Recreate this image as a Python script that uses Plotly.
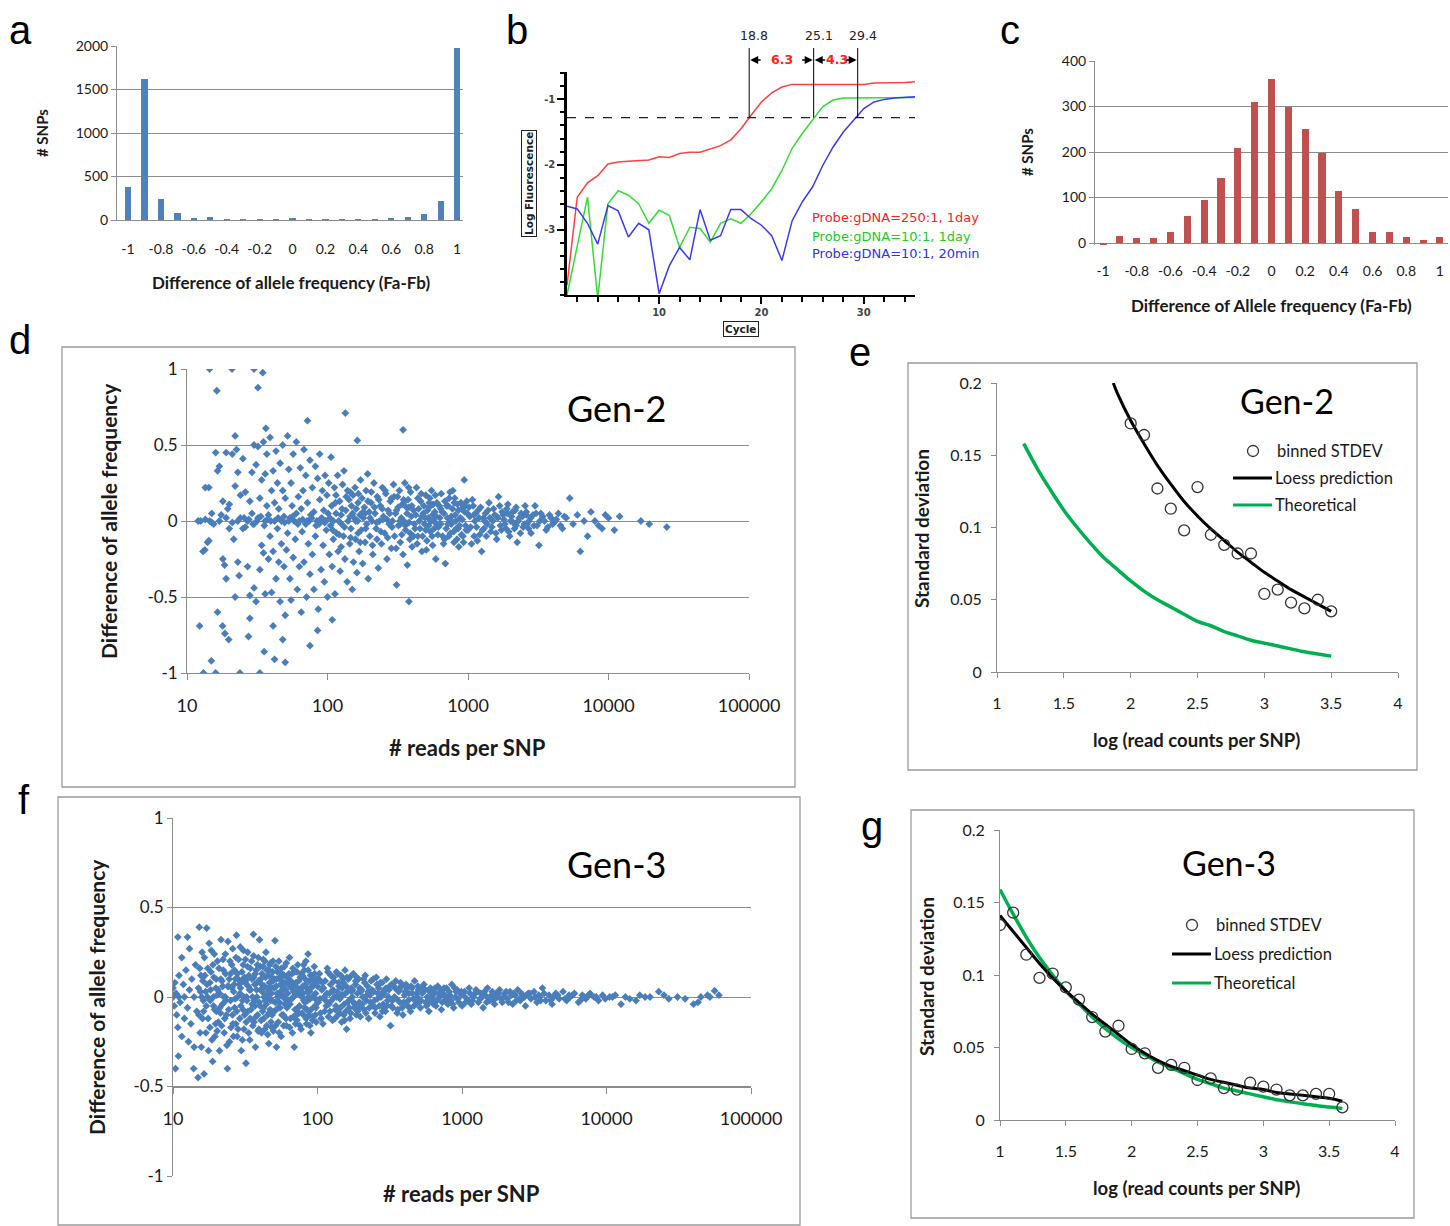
import plotly.graph_objects as go

W, H = 1450, 1226
def fx(p): return p / W
def fy(p): return 1 - p / H

# ---------------- DATA ----------------
# panel a
a_bins = [-1.0, -0.9, -0.8, -0.7, -0.6, -0.5, -0.4, -0.3, -0.2, -0.1, 0.0,
          0.1, 0.2, 0.3, 0.4, 0.5, 0.6, 0.7, 0.8, 0.9, 1.0]
a_counts = [375, 1620, 238, 77, 19, 34, 11, 11, 8, 11, 19, 11, 11, 11, 8, 11, 19, 34, 65, 222, 1973]
hist_ticks = [-1, -0.8, -0.6, -0.4, -0.2, 0, 0.2, 0.4, 0.6, 0.8, 1]
hist_ticktext = ['-1', '-0.8', '-0.6', '-0.4', '-0.2', '0', '0.2', '0.4', '0.6', '0.8', '1']

# panel b
b_cycles = [1, 2, 3, 4, 5, 6, 7, 8, 9, 10, 11, 12, 13, 14, 15, 16, 17, 18, 19, 20,
            21, 22, 23, 24, 25, 26, 27, 28, 29, 30, 31, 32, 33, 34, 35]
b_red = [-3.85, -2.5, -2.28, -2.17, -1.99, -1.96, -1.95, -1.94, -1.93, -1.88, -1.89, -1.83,
         -1.81, -1.81, -1.76, -1.71, -1.62, -1.45, -1.24, -1.04, -0.9, -0.81, -0.77, -0.77,
         -0.77, -0.77, -0.77, -0.77, -0.77, -0.77, -0.75, -0.75, -0.74, -0.74, -0.73]
b_green = [-4.0, -3.25, -2.5, -4.05, -2.6, -2.4, -2.47, -2.6, -2.9, -2.7, -2.78, -3.27,
           -2.96, -2.98, -3.19, -2.9, -2.83, -2.9, -2.75, -2.57, -2.37, -2.09, -1.75, -1.52,
           -1.32, -1.11, -1.01, -0.98, -0.98, -0.98, -0.98, -0.98, -0.98, -0.97, -0.97]
b_blue = [-2.64, -2.68, -2.9, -3.22, -2.63, -2.71, -3.11, -2.9, -3.0, -3.98, -3.55, -3.27,
          -3.46, -2.69, -3.16, -3.09, -2.69, -2.69, -2.83, -2.93, -3.09, -3.47, -2.86, -2.57,
          -2.34, -2.01, -1.73, -1.5, -1.32, -1.14, -1.04, -1.0, -0.98, -0.97, -0.96]
b_names = ['Probe:gDNA=250:1, 1day', 'Probe:gDNA=10:1, 1day', 'Probe:gDNA=10:1, 20min']
b_threshold = -1.28
b_ct = [18.8, 25.1, 29.4]

# panel c
c_bins = [-1.0, -0.9, -0.8, -0.7, -0.6, -0.5, -0.4, -0.3, -0.2, -0.1, 0.0,
          0.1, 0.2, 0.3, 0.4, 0.5, 0.6, 0.7, 0.8, 0.9, 1.0]
c_counts = [-4, 15, 10, 12, 25, 59, 95, 142, 209, 311, 360, 300, 251, 197, 114, 75, 25, 25, 13, 7, 13]

# panel d (Gen-2) : (# reads, difference)
d_points = [
    (14.5, 1), (20.9, 1), (30, 1), (34.6, 0.976), (16.3, 0.857), (32, 0.877),
    (13.1, -1), (16, -1), (23.8, -1), (33, -1), (14.9, -0.92), (35.4, -0.86), (42, -0.91), (50, -0.93),
    (12.3, -0.69), (16.5, -0.6), (17.9, -0.69), (18.6, -0.74), (19.8, -0.78), (27.4, -0.76), (28, -0.64),
    (41, -0.69), (48, -0.78), (75, -0.82), (85, -0.72), (108, -0.65), (380, -0.53), (345, 0.6), (134, 0.71),
    (72, 0.66), (163, 0.53), (36.4, 0.61), (22, 0.56), (14.3, 0.22), (13.4, -0.19), (14.3, -0.13),
    (12.5, 0), (13, -0.2), (13.5, 0.22), (14, -0.14), (14.5, 0), (15, 0.05), (15.5, -0.02), (16, 0.45),
    (16.5, 0.33), (17, 0.36), (17.5, 0.04), (18, -0.25), (18, 0.13), (18.5, -0.29), (19, 0.45), (19, -0.38),
    (19.5, 0.08), (20, -0.05), (20, 0.11),
    (21, 0.44), (21.5, -0.12), (22, 0.23), (22, -0.5), (22.5, 0.47), (23, -0.27), (23, 0.32), (23.5, -0.36),
    (24, 0.17), (24, 0.02), (25, -0.05), (25, 0.41), (26, -0.04), (26, 0.19), (27, 0.0), (27, -0.3),
    (28, 0.13), (28, -0.49), (29, 0.32), (29, 0.05), (30, -0.02), (30, 0.5), (30, -0.44),
    (31, 0.37), (31, -0.53), (32, 0.02), (32, 0.49), (33, -0.32), (33, 0.15), (34, -0.16), (34, 0.27),
    (35, 0.52), (35, -0.21), (36, 0.0), (36, 0.31), (36, -0.48), (37, 0.44), (37, 0.1), (38, -0.25),
    (38, 0.04), (39, 0.55), (39, -0.1), (40, -0.47), (40, 0.2), (41, 0.33), (41, -0.2), (42, 0.0),
    (42, 0.12), (43, -0.38), (43, 0.46), (44, 0.25), (44, -0.05), (45, -0.27), (45, 0.08), (46, 0.38),
    (46, -0.53), (47, 0.0), (47, -0.15), (48, 0.5), (48, 0.2), (49, -0.3), (49, 0.03), (50, -0.62), (50, 0.15),
    (51, -0.19), (52, 0.56), (52, -0.08), (53, 0.34), (54, -0.38), (54, 0.02), (55, 0.25), (55, -0.52),
    (56, 0.1), (57, -0.24), (57, 0.44), (58, 0.0), (59, -0.12), (60, 0.05), (60, 0.52), (61, -0.45),
    (62, 0.16), (63, -0.3), (63, 0.0), (64, 0.35), (65, -0.6), (65, 0.08), (66, -0.07), (67, 0.2),
    (68, -0.27), (68, 0.47), (70, -0.02), (70, 0.3), (71, -0.5), (72, 0.12), (73, -0.15), (74, 0.0),
    (75, 0.4), (75, -0.35), (76, 0.04), (78, -0.22), (78, 0.22), (80, 0.06), (80, -0.45), (82, 0.36),
    (82, -0.1), (84, 0.0), (85, 0.28), (86, -0.58), (87, -0.02), (88, 0.44), (88, 0.14), (90, -0.32),
    (91, 0.02), (92, 0.2), (93, -0.16), (94, 0.07), (95, -0.4), (96, 0.3), (97, 0.0), (98, -0.06), (99, 0.17),
    (100, -0.5), (102, 0.25), (103, -0.22), (104, 0.02), (105, -0.03), (106, 0.42), (107, 0.1), (108, -0.3),
    (110, 0.0), (110, -0.12), (112, 0.22), (113, -0.48), (115, 0.05), (116, -0.08), (118, 0.3), (119, -0.2),
    (120, 0.0), (122, 0.13), (123, -0.33), (125, 0.04), (126, -0.02), (128, 0.24), (130, -0.1), (131, 0.33),
    (133, -0.25), (135, 0.07), (136, 0.16), (138, -0.4), (140, 0.0), (142, 0.14), (144, -0.15), (145, 0.19),
    (147, -0.05), (148, 0.1), (150, -0.45), (152, 0.17), (153, -0.27), (155, 0.02), (157, 0.22), (158, -0.12),
    (160, 0.08), (162, -0.34), (164, 0.0), (165, 0.12), (168, -0.2), (170, 0.04), (172, 0.27), (174, -0.06),
    (176, 0.15), (178, -0.28), (180, 0.02), (183, 0.09), (185, -0.14), (188, 0.2), (190, -0.02), (193, 0.31),
    (195, -0.38), (198, 0.06), (200, -0.1), (204, 0.12), (207, 0.0), (210, -0.22), (214, 0.25), (218, 0.05),
    (222, -0.05), (226, 0.16), (230, -0.31), (234, 0.0), (238, 0.1), (242, -0.15), (246, 0.22), (250, 0.03),
    (255, -0.08), (260, 0.18), (265, -0.25), (270, 0.07), (275, -0.02), (280, 0.13), (285, -0.18), (290, 0.0),
    (295, 0.24),
    (300, -0.1), (305, 0.05), (310, -0.42), (315, 0.16), (320, -0.03), (325, 0.2), (330, -0.14), (335, 0.02),
    (340, 0.11), (345, -0.22), (350, 0.0), (355, 0.25), (360, -0.06), (365, 0.09), (370, -0.29), (375, 0.14),
    (380, -0.01), (385, -0.12), (390, 0.19), (395, 0.03), (400, -0.17), (410, 0.07), (420, -0.05), (430, 0.22),
    (440, -0.1), (450, 0.0), (460, 0.13), (470, -0.2), (480, 0.05), (490, -0.02), (500, 0.17), (510, -0.13),
    (520, 0.02), (530, 0.09), (540, -0.07), (550, 0.2), (560, -0.16), (570, 0.0), (580, 0.06), (590, -0.25),
    (600, 0.12), (615, -0.04), (630, 0.02), (645, 0.18), (660, -0.1), (675, 0.05), (690, -0.28), (705, 0.1),
    (720, -0.02), (735, 0.15), (750, -0.08), (765, 0.0), (780, 0.2), (795, -0.14), (810, 0.04), (825, -0.05),
    (840, 0.11), (860, -0.17), (880, 0.02), (900, 0.08), (920, -0.1), (940, 0.27), (960, -0.03), (980, 0.13),
    (1000, -0.06), (1030, 0.03), (1060, -0.15), (1090, 0.1), (1120, 0.0), (1150, -0.04), (1180, 0.07),
    (1210, -0.09), (1250, -0.2), (1290, 0.02), (1330, 0.05), (1370, -0.02), (1410, 0.12), (1450, -0.07),
    (1500, 0.0), (1550, 0.04), (1600, -0.12), (1650, 0.16), (1700, -0.03), (1750, 0.06), (1800, 0.01),
    (1860, -0.05), (1920, 0.11), (1980, -0.1), (2040, 0.03), (2100, -0.01), (2170, 0.07), (2240, -0.14),
    (2310, 0.02), (2390, 0.05), (2470, -0.04), (2550, 0.1), (2630, -0.02), (2720, 0.0), (2810, -0.08),
    (2900, 0.04), (3000, 0.1),
    (3100, -0.03), (3200, -0.16), (3300, 0.05), (3500, 0.0), (3700, -0.04), (3900, 0.02), (4100, -0.01),
    (4400, 0.05), (4700, -0.05), (5000, 0.02), (5300, 0.15), (5600, -0.02), (6000, 0.04), (6300, -0.2),
    (6700, 0.0), (7100, -0.1), (7500, 0.06), (8000, 0.0), (8500, -0.03), (9000, -0.05), (9500, 0.04),
    (10000, 0.02), (11000, -0.06), (12000, 0.03), (17000, 0.0), (19500, -0.02), (26000, -0.04),
    (115, 0.17), (125, -0.17), (145, 0.03), (165, -0.08), (185, 0.05), (205, 0.19), (225, -0.12), (245, 0.08),
    (265, 0.01), (285, 0.15), (310, 0.07), (330, -0.02), (355, 0.13), (380, 0.09), (410, -0.1), (440, 0.15),
    (470, 0.03), (500, -0.06), (530, 0.12), (560, 0.04), (600, -0.02), (640, 0.08), (680, -0.12), (720, 0.1),
    (760, 0.03), (800, 0.12), (850, -0.05), (900, -0.09), (950, 0.06), (1100, 0.04), (1300, -0.05),
    (1600, 0.03), (1900, 0.05), (2200, -0.03), (2600, 0.04),
    (12, 0.0), (13.5, 0.01), (15, -0.01), (17, 0.0), (19, 0.02), (21, -0.01), (23, 0.0), (25.5, 0.02),
    (27.5, 0.01), (29.5, -0.02), (31.5, 0.0), (33.5, 0.03), (35.5, -0.03), (37.5, 0.01), (39.5, 0.0),
    (44.5, 0.02), (49.5, -0.01), (53, 0.0), (56.5, 0.03), (61.5, -0.02), (66.5, 0.01), (71.5, 0.0), (77, 0.02),
    (83, -0.03), (89, 0.01), (95.5, -0.01),
    (101, 0.05), (109, -0.06), (114, 0.12), (121, -0.09), (127, 0.08), (132, -0.04), (139, 0.2), (146, -0.11),
    (151, 0.05), (159, 0.0), (166, 0.18), (171, -0.14), (179, 0.06), (187, -0.05), (194, 0.13), (201, 0.02),
    (209, -0.16), (216, 0.09), (224, -0.01), (232, 0.14), (240, -0.07), (248, 0.01), (257, 0.2), (268, -0.11),
    (277, 0.05), (288, -0.04), (298, 0.16), (308, -0.18), (318, 0.09), (328, 0.0), (338, -0.09), (348, 0.14),
    (358, -0.03), (368, 0.05), (378, 0.22), (388, -0.08), (398, 0.1), (415, -0.02), (425, 0.04), (435, -0.15),
    (445, 0.08), (455, -0.05), (465, 0.18), (475, -0.1), (485, 0.1), (495, 0.02), (505, -0.19), (515, 0.07),
    (525, -0.03), (535, 0.15), (545, 0.0), (555, -0.1), (565, 0.11), (575, -0.05), (585, 0.17), (595, 0.03),
    (610, -0.09), (625, 0.1), (640, -0.02), (655, 0.06), (670, -0.15), (685, 0.13), (700, -0.05), (715, 0.02),
    (730, -0.1), (745, 0.19), (760, -0.02), (775, 0.08), (790, -0.07), (805, 0.15), (820, 0.0), (835, -0.12),
    (855, 0.07), (870, -0.03), (890, 0.12), (910, 0.01), (930, -0.14), (950, 0.1), (970, -0.06), (990, 0.05),
    (1015, 0.09), (1045, -0.04), (1075, 0.14), (1105, -0.1), (1135, 0.05), (1165, -0.13), (1200, 0.02),
    (1230, 0.09), (1270, -0.06), (1310, 0.0), (1350, -0.1), (1390, 0.07), (1430, 0.02), (1480, -0.04),
    (1520, 0.08), (1580, -0.08), (1630, 0.02), (1680, 0.1), (1730, -0.06), (1780, 0.04), (1830, -0.02),
    (1890, 0.08), (1950, -0.07), (2010, 0.0), (2070, 0.06), (2140, -0.05), (2200, 0.09), (2280, 0.0),
    (2360, -0.08), (2440, 0.03), (2520, -0.02), (2600, 0.06), (2700, -0.05), (2800, 0.02), (2950, -0.03),
    (3050, 0.05), (3250, 0.0), (3400, 0.03), (3600, -0.06), (3800, 0.04), (4000, -0.02), (4250, 0.01),
    (4550, -0.03), (4850, 0.03),
]
d_reads = [p[0] for p in d_points]
d_diff = [p[1] for p in d_points]

# panel f (Gen-3) : (# reads, difference)
f_points = [
    (10, 0.0), (10, 0.05), (10.2, -0.05), (10.3, 0.08), (10.4, -0.4), (10.5, 0.02), (10.6, -0.1),
    (10.8, 0.335), (10.8, -0.17), (10.9, -0.33), (11, 0.0), (11, 0.12), (11.2, -0.03), (11.5, 0.22),
    (11.5, -0.22), (11.8, 0.07), (12, -0.12), (12, 0.0), (12.3, 0.15), (12.6, 0.335), (12.6, -0.06),
    (12.8, -0.25), (13, 0.04), (13, 0.27), (13.3, -0.15), (13.5, 0.1), (13.9, -0.4), (14, 0.0), (14, -0.28),
    (14.3, 0.18), (14.6, -0.08), (14.9, -0.45), (15, 0.05), (15.2, 0.39), (15.4, -0.2), (15.6, 0.12), (15.8, 0.0),
    (16, -0.12), (16.4, -0.43), (16.5, 0.22), (16.8, 0.03), (17, -0.05), (17.1, 0.385), (17.4, 0.16),
    (17.6, -0.3), (18, 0.08), (18, -0.17), (18.4, 0.26), (18.8, -0.36), (19, 0.0), (19.2, 0.11), (19.5, -0.22),
    (19.8, 0.05), (20, -0.08), (20.3, 0.2), (20.6, -0.14), (21, 0.02), (21, -0.3), (21.5, 0.32), (21.8, 0.09),
    (22, -0.04), (22.3, 0.15), (22.6, -0.2), (23, 0.0), (23, 0.24), (23.4, -0.1), (23.8, -0.4), (24, 0.31),
    (24.2, 0.06), (24.6, -0.25), (25, 0.13), (25, -0.02),
    (25.5, 0.18), (26, -0.15), (26.3, 0.03), (26.7, -0.06), (27, 0.1), (27.5, 0.345), (27.8, -0.22), (28, 0.0),
    (28.5, 0.21), (29, -0.12), (29.3, 0.05), (29.7, -0.3), (30, 0.14), (30.3, -0.02), (30.7, 0.26), (31, -0.18),
    (31.5, 0.08), (32, -0.37), (32.3, 0.0), (32.8, 0.17), (33, -0.08), (33.5, 0.12), (34, -0.24), (34.5, 0.04),
    (35, 0.2), (35.3, -0.04), (36, 0.35), (36.4, -0.14), (36.8, 0.07), (37.2, -0.28), (37.7, 0.15), (38, 0.0),
    (38.5, -0.1), (39, 0.22), (39.7, 0.32), (40, -0.05),
    (40.5, 0.1), (41, -0.2), (41.5, 0.03), (42, 0.17), (42.5, -0.12), (43, 0.06), (43.5, -0.02), (44, 0.25),
    (44.5, -0.16), (45, 0.0), (45.5, 0.12), (46, -0.26), (46.5, 0.08), (47, -0.07), (47.5, 0.19), (48, 0.02),
    (48.5, -0.1), (49, 0.14), (49.5, -0.19), (50, 0.05), (50.8, 0.315), (51, -0.03), (52, -0.28), (52, 0.1),
    (53, 0.0), (53.5, -0.14), (54, 0.2), (55, -0.06), (55.5, 0.07), (56, -0.22), (57, 0.13), (57.5, 0.01),
    (58, -0.1), (59, 0.17), (59.5, -0.04), (60, 0.04),
    (61, -0.16), (62, 0.11), (63, -0.02), (64, 0.22), (65, -0.12), (66, 0.05), (67, -0.2), (68, 0.0),
    (69, -0.28), (69.5, 0.14), (70, -0.07), (71, 0.08), (72, -0.13), (73, 0.18), (74, 0.02), (75, -0.05),
    (76, 0.11), (77, -0.18), (78, 0.0), (79, 0.06), (80, -0.1), (81, 0.15), (82, -0.03), (83, 0.2),
    (84, -0.15), (85, 0.03), (86, 0.24), (87, -0.08), (88, 0.09), (89, -0.01), (90, -0.2), (91, 0.12),
    (92, 0.0), (93, -0.11), (94, 0.07), (95, 0.17), (96, -0.05), (97, 0.02), (98, -0.14), (99, 0.1),
    (101, -0.03), (103, 0.13), (105, -0.09), (107, 0.04), (109, -0.15), (111, 0.0), (113, 0.09), (115, -0.05),
    (117, 0.16), (119, -0.11), (121, 0.02), (123, 0.07), (125, -0.02), (127, -0.13), (129, 0.11), (131, 0.0),
    (133, -0.07), (135, 0.14), (137, 0.03), (139, -0.1), (141, 0.06), (143, -0.01), (145, 0.12), (147, -0.14),
    (149, 0.01), (151, 0.08), (153, -0.04), (155, 0.15), (157, -0.08), (159, -0.18), (161, 0.03), (163, 0.1),
    (165, -0.02), (168, -0.12), (171, 0.05), (174, 0.0), (177, 0.13), (180, -0.06), (183, 0.07), (186, -0.1),
    (189, 0.02), (192, 0.1), (195, -0.03), (198, -0.11),
    (202, 0.04), (206, 0.0), (210, -0.07), (214, 0.12), (218, -0.02), (222, 0.06), (226, -0.12), (230, 0.01),
    (235, 0.09), (240, -0.05), (245, 0.03), (250, -0.09), (255, 0.11), (260, -0.01), (265, 0.05), (270, -0.11),
    (275, 0.0), (280, 0.08), (285, -0.04), (290, 0.02), (295, -0.08), (300, 0.1), (306, -0.02), (312, 0.04),
    (320, -0.16), (326, 0.07), (332, -0.06), (340, 0.0), (348, 0.09), (356, -0.09), (364, 0.03), (372, -0.03),
    (380, 0.06), (390, -0.1), (400, 0.01), (410, 0.07), (420, -0.05), (430, 0.02), (440, -0.08), (450, 0.05),
    (460, -0.01), (470, 0.09), (480, -0.04), (490, 0.0),
    (500, 0.04), (515, -0.06), (530, 0.02), (545, 0.07), (560, -0.03), (575, 0.0), (590, -0.08), (605, 0.05),
    (620, -0.01), (640, 0.03), (660, -0.05), (680, 0.06), (700, 0.0), (720, -0.07), (740, 0.02), (760, -0.02),
    (780, 0.05), (800, -0.04), (825, 0.01), (850, 0.07), (875, -0.06), (900, 0.0), (925, 0.04), (950, -0.03),
    (975, 0.02),
    (1000, -0.05), (1040, 0.03), (1080, -0.01), (1120, 0.05), (1160, -0.04), (1200, 0.0), (1250, 0.04),
    (1300, -0.03), (1350, 0.02), (1400, -0.06), (1450, 0.01), (1500, 0.05), (1560, -0.02), (1620, 0.03),
    (1680, -0.04), (1750, 0.0), (1820, 0.04), (1900, -0.03), (1980, 0.02), (2060, -0.01), (2150, 0.03),
    (2240, -0.04), (2330, 0.01), (2430, 0.04), (2530, -0.02), (2640, 0.0), (2750, -0.05), (2870, 0.02),
    (3000, -0.01),
    (3150, 0.03), (3300, -0.03), (3450, 0.0), (3600, 0.05), (3800, -0.02), (4000, 0.01), (4200, -0.04),
    (4450, 0.02), (4700, -0.01), (5000, 0.03), (5300, -0.02), (5600, 0.0), (6000, 0.02), (6400, -0.03),
    (6800, 0.01), (7200, -0.01), (7700, 0.02), (8200, 0.0), (8800, -0.02), (9400, 0.01),
    (10500, 0.0), (11500, 0.01), (12600, -0.04), (13500, 0.0), (16000, -0.02), (17000, 0.01), (20000, 0.0),
    (23000, 0.03), (27000, -0.01), (31000, 0.0), (40000, -0.04), (45000, 0.0), (50000, 0.01), (56000, 0.035),
    (60000, 0.01),
    (15.5, 0.03), (16.2, -0.02), (17.3, 0.0), (18.2, 0.04), (19.4, -0.07), (20.1, 0.01), (21.3, -0.09),
    (22.1, 0.06), (23.2, -0.02), (24.5, 0.1), (25.8, -0.1), (26.5, 0.07), (27.2, -0.15), (28.3, 0.1),
    (29.1, 0.02), (30.5, -0.07), (31.2, 0.11), (32.5, -0.02), (33.2, 0.06), (34.2, -0.12), (35.5, 0.0),
    (36.2, 0.11), (37, -0.05), (38.2, 0.08), (39.3, -0.18), (40.3, 0.04), (41.3, 0.13), (42.3, -0.06),
    (43.3, 0.2), (44.3, 0.01), (45.3, -0.1), (46.3, 0.15), (47.3, -0.02), (48.3, -0.17), (49.3, 0.09),
    (50.5, -0.08), (51.5, 0.17), (52.5, 0.02), (54.5, -0.03), (56.5, 0.09), (58.5, 0.0), (60.5, -0.12),
    (62.5, 0.07), (64.5, -0.04), (66.5, 0.13), (68.5, 0.03), (70.5, -0.15), (72.5, 0.05), (74.5, -0.09),
    (76.5, 0.02), (78.5, 0.12), (80.5, -0.02), (82.5, 0.07), (84.5, -0.07), (86.5, 0.0), (88.5, -0.16),
    (90.5, 0.05), (93.5, 0.1), (96.5, -0.1), (100, 0.06), (104, -0.01), (108, 0.08), (112, -0.08), (116, 0.02),
    (120, -0.04), (124, 0.12), (128, 0.04), (132, -0.12), (136, 0.0), (140, 0.08), (144, -0.06), (148, 0.05),
    (152, -0.1), (156, 0.02), (160, 0.11), (166, -0.06), (172, 0.03), (178, -0.03), (184, 0.09), (190, -0.08),
    (196, 0.05), (204, -0.04), (212, 0.08), (220, 0.01), (228, -0.06), (238, 0.04), (248, -0.02), (258, 0.07),
    (268, -0.05), (278, 0.02), (288, -0.06), (298, 0.05), (310, 0.0), (324, -0.05), (338, 0.06), (352, -0.01),
    (368, 0.04), (385, -0.06), (405, 0.03), (425, -0.02), (445, 0.06), (465, -0.05), (485, 0.02), (520, -0.02),
    (555, 0.04), (595, -0.03), (630, 0.01), (670, -0.02), (710, 0.04), (770, 0.0), (840, -0.02), (910, 0.03),
    (1020, 0.01), (1100, -0.02), (1230, 0.02), (1380, 0.0), (1530, -0.01), (1720, 0.02), (1950, 0.0),
    (2200, 0.01), (2500, -0.01), (2800, 0.01), (3400, 0.01), (4300, 0.0), (5500, 0.01), (7000, 0.0),
    (15.1, -0.1), (15.3, 0.16), (15.7, -0.28), (15.9, 0.25), (16.1, 0.09), (16.3, -0.08), (16.6, 0.12),
    (16.9, -0.2), (17.2, 0.07), (17.5, -0.12), (17.8, 0.3), (18.1, -0.02), (18.3, 0.14), (18.6, -0.24),
    (18.9, 0.18), (19.1, -0.05), (19.3, 0.24), (19.7, -0.15), (19.9, 0.1), (20.2, -0.19), (20.5, 0.04),
    (20.8, 0.16), (21.1, -0.06), (21.4, 0.1), (21.7, -0.16), (22.2, 0.21), (22.5, 0.0), (22.8, -0.12),
    (23.1, 0.13), (23.6, -0.27), (23.9, 0.06), (24.3, -0.07), (24.8, 0.2), (25.2, -0.17), (25.6, 0.05),
    (25.9, 0.27), (26.2, -0.22), (26.6, 0.15), (26.9, -0.01), (27.3, 0.22), (27.6, -0.08), (27.9, 0.13),
    (28.2, -0.18), (28.7, 0.07), (29.2, 0.28), (29.5, -0.05), (29.9, 0.09),
    (30.2, -0.24), (30.6, 0.18), (30.9, 0.0), (31.3, -0.1), (31.7, 0.21), (32.1, -0.14), (32.6, 0.1),
    (32.9, 0.25), (33.4, -0.2), (33.8, 0.04), (34.3, 0.16), (34.7, -0.07), (35.2, 0.1), (35.7, -0.16),
    (36.1, 0.23), (36.6, -0.02), (37.1, 0.13), (37.5, -0.11), (37.9, 0.04), (38.4, 0.18), (38.8, -0.19),
    (39.2, 0.09), (39.6, -0.03), (40.2, 0.17), (40.7, -0.13), (41.2, 0.07), (41.7, -0.08), (42.2, 0.21),
    (42.7, 0.0), (43.2, -0.18), (43.7, 0.11), (44.2, -0.04), (44.7, 0.15), (45.2, -0.21), (45.7, 0.04),
    (46.2, -0.09), (46.7, 0.18), (47.2, 0.06), (47.7, -0.14), (48.2, 0.11), (48.7, -0.02), (49.2, 0.2),
    (49.7, -0.08), (50.3, 0.1), (51.2, -0.16), (51.8, 0.06), (52.8, 0.14), (53.3, -0.06), (53.8, 0.0),
    (54.3, -0.2), (54.8, 0.11), (55.3, 0.03), (56.2, 0.16), (56.8, -0.1), (57.8, 0.05), (58.3, -0.16),
    (58.8, 0.12), (59.3, -0.01), (59.8, 0.08),
    (60.8, 0.19), (61.5, -0.06), (62.2, 0.02), (63.5, 0.13), (64.2, -0.17), (65.5, 0.09), (66.2, -0.01),
    (67.5, 0.16), (68.2, -0.11), (69.2, 0.07), (70.2, 0.01), (71.5, -0.1), (72.2, 0.14), (73.5, -0.06),
    (74.2, 0.09), (75.5, -0.16), (76.2, 0.04), (77.5, 0.13), (78.2, -0.09), (79.5, 0.02), (80.2, 0.18),
    (81.5, -0.06), (82.2, 0.1), (83.5, -0.12), (84.2, 0.05), (85.5, -0.02), (86.2, 0.15), (87.5, -0.1),
    (88.2, 0.03), (89.5, 0.12), (90.2, -0.07), (91.5, 0.06), (92.5, -0.13), (94.5, 0.0), (95.5, 0.13),
    (97.5, -0.06), (98.5, 0.08), (99.5, -0.02), (102, 0.1), (106, -0.12), (110, 0.05), (114, -0.02),
    (118, 0.14), (122, -0.08), (126, 0.03),
    (130, 0.09), (134, -0.05), (138, 0.13), (142, -0.09), (146, 0.01), (150, 0.1), (154, -0.13), (158, 0.06),
    (162, -0.03), (167, 0.11), (170, -0.09), (175, 0.04), (181, -0.04), (187, 0.11), (193, -0.06), (199, 0.03),
    (208, 0.1), (216, -0.09), (224, 0.03), (233, -0.03), (243, 0.1), (252, -0.06), (262, 0.02), (272, 0.08),
    (282, -0.08), (292, 0.04), (302, -0.05), (316, 0.06), (330, -0.02), (344, 0.05), (360, -0.07), (376, 0.08),
    (395, -0.03),
    (415, 0.05), (435, -0.06), (455, 0.02), (475, -0.02), (495, 0.06), (508, -0.03), (538, 0.05), (568, -0.05),
    (598, 0.03), (635, -0.04), (650, 0.05), (690, 0.02), (730, -0.03), (750, 0.05), (790, -0.01), (815, 0.03),
    (860, -0.04), (890, 0.05), (940, -0.01), (990, 0.03), (1060, -0.03), (1140, 0.02), (1180, -0.02),
    (1280, 0.03), (1330, -0.01), (1430, 0.03), (1480, -0.03), (1600, 0.01), (1650, -0.02), (1800, 0.02),
    (1860, -0.01), (2020, 0.03), (2100, -0.03), (2280, 0.02), (2380, -0.02), (2580, 0.02), (2700, 0.0),
    (2950, 0.02),
    (3200, 0.0), (3500, -0.02), (3700, 0.02), (4100, -0.02), (4600, 0.01), (5150, -0.01), (5800, 0.01),
    (6600, -0.02), (7500, 0.01), (8500, 0.0), (9800, -0.01), (11000, 0.0), (14500, -0.01), (18500, 0.0),
    (25000, 0.01), (35000, -0.01), (43000, -0.03), (52000, 0.0),
]
f_reads = [p[0] for p in f_points]
f_diff = [p[1] for p in f_points]
read_ticks = [10, 100, 1000, 10000, 100000]
read_ticktext = ['10', '100', '1000', '10000', '100000']
diff_ticks = [-1, -0.5, 0, 0.5, 1]
diff_ticktext = ['-1', '-0.5', '0', '0.5', '1']

# panel e (Gen-2)
e_bin_x = [2.0, 2.1, 2.2, 2.3, 2.4, 2.5, 2.6, 2.7, 2.8, 2.9, 3.0, 3.1, 3.2, 3.3, 3.4, 3.5]
e_bin_sd = [0.172, 0.164, 0.127, 0.113, 0.098, 0.128, 0.095, 0.088, 0.082, 0.082, 0.054, 0.057,
            0.048, 0.044, 0.050, 0.042]
e_loess_x = [1.87, 1.9, 2.0, 2.1, 2.2, 2.3, 2.4, 2.5, 2.6, 2.7, 2.8, 2.9, 3.0, 3.1, 3.2, 3.3, 3.4, 3.5]
e_loess_sd = [0.200, 0.193, 0.174, 0.158, 0.143, 0.130, 0.118, 0.108, 0.099, 0.091, 0.083, 0.076,
              0.069, 0.063, 0.057, 0.052, 0.047, 0.042]
e_theo_x = [1.2, 1.3, 1.4, 1.5, 1.6, 1.7, 1.8, 1.9, 2.0, 2.1, 2.2, 2.3, 2.4, 2.5, 2.6, 2.7, 2.8, 2.9,
            3.0, 3.1, 3.2, 3.3, 3.4, 3.5]
e_theo_sd = [0.158, 0.141, 0.126, 0.112, 0.100, 0.089, 0.079, 0.071, 0.063, 0.056, 0.050, 0.045,
             0.040, 0.035, 0.032, 0.028, 0.025, 0.022, 0.020, 0.018, 0.016, 0.014, 0.0125, 0.011]

# panel g (Gen-3)
g_bin_x = [1.0, 1.1, 1.2, 1.3, 1.4, 1.5, 1.6, 1.7, 1.8, 1.9, 2.0, 2.1, 2.2, 2.3, 2.4, 2.5, 2.6, 2.7,
           2.8, 2.9, 3.0, 3.1, 3.2, 3.3, 3.4, 3.5, 3.6]
g_bin_sd = [0.1345, 0.143, 0.114, 0.098, 0.101, 0.0915, 0.083, 0.071, 0.061, 0.065, 0.049, 0.046,
            0.036, 0.038, 0.036, 0.0276, 0.0287, 0.022, 0.021, 0.0257, 0.023, 0.021, 0.017, 0.017,
            0.018, 0.018, 0.0087]
g_line_x = [1.0, 1.1, 1.2, 1.3, 1.4, 1.5, 1.6, 1.7, 1.8, 1.9, 2.0, 2.1, 2.2, 2.3, 2.4, 2.5, 2.6, 2.7,
            2.8, 2.9, 3.0, 3.1, 3.2, 3.3, 3.4, 3.5, 3.6]
g_loess_sd = [0.141, 0.130, 0.119, 0.108, 0.098, 0.089, 0.081, 0.073, 0.066, 0.059, 0.052, 0.046,
              0.041, 0.037, 0.034, 0.031, 0.028, 0.026, 0.024, 0.022, 0.021, 0.019, 0.018, 0.017,
              0.016, 0.015, 0.013]
g_theo_sd = [0.159, 0.142, 0.126, 0.112, 0.100, 0.089, 0.080, 0.071, 0.063, 0.056, 0.050, 0.045,
             0.040, 0.036, 0.032, 0.028, 0.025, 0.022, 0.020, 0.018, 0.016, 0.014, 0.0126, 0.0112,
             0.010, 0.0089, 0.008]
sd_legend = ['binned STDEV', 'Loess prediction', 'Theoretical']

# ---------------- STYLE ----------------
FONT = 'Lato'
TXT = '#1a1a1a'
GRID = '#8c8c8c'
BLUE = '#4A7EBB'
RED_BAR = '#C0504D'
GREEN = '#00B050'

fig = go.Figure()

# a
fig.add_trace(go.Bar(x=a_bins, y=a_counts, marker=dict(color='#4F81BD', line=dict(width=0)),
                     width=0.038, xaxis='x', yaxis='y', showlegend=False))
# b
for ys, col in [(b_red, '#FF4040'), (b_green, '#33DD33'), (b_blue, '#3A3AF0')]:
    fig.add_trace(go.Scatter(x=b_cycles, y=ys, mode='lines', line=dict(color=col, width=1.5),
                             xaxis='x2', yaxis='y2', showlegend=False))
# c
fig.add_trace(go.Bar(x=c_bins, y=c_counts, marker=dict(color=RED_BAR, line=dict(width=0)),
                     width=0.042, xaxis='x3', yaxis='y3', showlegend=False))
# d
fig.add_trace(go.Scatter(x=d_reads, y=d_diff, mode='markers',
                         marker=dict(symbol='diamond', size=6, color=BLUE),
                         xaxis='x4', yaxis='y4', showlegend=False))
# e
fig.add_trace(go.Scatter(x=e_theo_x, y=e_theo_sd, mode='lines', line=dict(color=GREEN, width=3.5, shape='spline'),
                         xaxis='x5', yaxis='y5', showlegend=False))
fig.add_trace(go.Scatter(x=e_loess_x, y=e_loess_sd, mode='lines', line=dict(color='black', width=3, shape='spline'),
                         xaxis='x5', yaxis='y5', showlegend=False))
fig.add_trace(go.Scatter(x=e_bin_x, y=e_bin_sd, mode='markers',
                         marker=dict(symbol='circle-open', size=11, color='#333', line=dict(width=1.3)),
                         xaxis='x5', yaxis='y5', showlegend=False))
# f
fig.add_trace(go.Scatter(x=f_reads, y=f_diff, mode='markers',
                         marker=dict(symbol='diamond', size=6, color=BLUE),
                         xaxis='x6', yaxis='y6', showlegend=False))
# g
fig.add_trace(go.Scatter(x=g_line_x, y=g_theo_sd, mode='lines', line=dict(color=GREEN, width=3.5, shape='spline'),
                         xaxis='x7', yaxis='y7', showlegend=False))
fig.add_trace(go.Scatter(x=g_line_x, y=g_loess_sd, mode='lines', line=dict(color='black', width=3, shape='spline'),
                         xaxis='x7', yaxis='y7', showlegend=False))
fig.add_trace(go.Scatter(x=g_bin_x, y=g_bin_sd, mode='markers',
                         marker=dict(symbol='circle-open', size=11, color='#333', line=dict(width=1.3)),
                         xaxis='x7', yaxis='y7', showlegend=False))


def tf(size, color=TXT, family=FONT):
    return dict(family=family, size=size, color=color)


def excel_x(dom, anchor, rng, **kw):
    d = dict(domain=dom, anchor=anchor, range=rng, showgrid=False, zeroline=False,
             showline=True, linecolor=GRID, linewidth=1, tickfont=tf(14),
             fixedrange=True, automargin=False)
    d.update(kw)
    return d


def excel_y(dom, anchor, rng, **kw):
    d = dict(domain=dom, anchor=anchor, range=rng, showgrid=True, gridcolor=GRID, gridwidth=1,
             zeroline=False, showline=True, linecolor=GRID, linewidth=1, ticks='outside',
             ticklen=5, tickcolor=GRID, tickfont=tf(14), fixedrange=True, automargin=False)
    d.update(kw)
    return d


# f x-axis sits on the y = -0.5 line
f_dom = [fy(1176), fy(818)]
f_xpos = f_dom[0] + (-0.5 - (-1)) / 2 * (f_dom[1] - f_dom[0])

layout = dict(
    width=W, height=H, margin=dict(l=0, r=0, t=0, b=0, pad=0, autoexpand=False),
    paper_bgcolor='white', plot_bgcolor='white', showlegend=False, bargap=0,
    # a
    xaxis=excel_x([fx(117), fx(463)], 'y', [-1.067, 1.036], tickvals=hist_ticks, ticktext=hist_ticktext,
                  ticks='', ticklabelstandoff=16),
    yaxis=excel_y([fy(220), fy(46)], 'x', [0, 2000], dtick=500, exponentformat='none'),
    # b
    xaxis2=dict(domain=[fx(567), fx(915)], anchor='y2', range=[1, 35], showgrid=False, zeroline=False,
                showline=True, linecolor='black', linewidth=2, tickvals=[10, 20, 30],
                ticks='outside', ticklen=7, tickwidth=1.5, tickcolor='black', automargin=False,
                minor=dict(dtick=2, tick0=0, ticks='outside', ticklen=5, tickcolor='black', tickwidth=1.5),
                tickfont=dict(family='DejaVu Sans', size=10, color='#444', weight='bold'), fixedrange=True),
    yaxis2=dict(domain=[fy(295), fy(72)], anchor='x2', range=[-4.0, -0.58], showgrid=False, zeroline=False,
                showline=True, linecolor='black', linewidth=2.5, tickvals=[-3, -2, -1],
                ticktext=['-3', '-2', '-1'], ticks='outside', ticklen=7, tickwidth=1.5, tickcolor='black',
                automargin=False,
                minor=dict(dtick=0.2, tick0=0, ticks='outside', ticklen=4, tickcolor='black', tickwidth=1.5),
                tickfont=dict(family='DejaVu Sans', size=10, color='#444', weight='bold'), fixedrange=True),
    # c
    xaxis3=excel_x([fx(1095), fx(1448)], 'y3', [-1.048, 1.048], tickvals=hist_ticks, ticktext=hist_ticktext,
                   ticks='', ticklabelstandoff=16, showline=False),
    yaxis3=excel_y([fy(245.3), fy(61)], 'x3', [-5, 400], tickvals=[0, 100, 200, 300, 400]),
    # d
    xaxis4=excel_x([fx(187), fx(749)], 'y4', [1, 5], type='log', tickvals=read_ticks, ticktext=read_ticktext,
                   ticks='outside', ticklen=6, tickcolor=GRID, tickfont=tf(18), ticklabelstandoff=10),
    yaxis4=excel_y([fy(673), fy(369)], 'x4', [-1, 1], tickvals=diff_ticks, ticktext=diff_ticktext,
                   tickfont=tf(17), gridwidth=1.3),
    # e
    xaxis5=excel_x([fx(997), fx(1398)], 'y5', [1, 4], dtick=0.5, ticks='outside', ticklen=5,
                   tickcolor=GRID, tickfont=tf(16), ticklabelstandoff=12),
    yaxis5=excel_y([fy(672), fy(383)], 'x5', [0, 0.2], dtick=0.05, showgrid=False, tickfont=tf(16),
                   ticklabelstandoff=6),
    # f
    xaxis6=excel_x([fx(173), fx(751)], 'free', [1, 5], type='log', position=f_xpos, tickvals=read_ticks,
                   ticktext=read_ticktext, ticks='outside', ticklen=6, tickcolor=GRID, tickfont=tf(18),
                   ticklabelstandoff=10),
    yaxis6=excel_y(f_dom, 'x6', [-1, 1], tickvals=diff_ticks, ticktext=diff_ticktext, tickfont=tf(17),
                   gridwidth=1.3),
    # g
    xaxis7=excel_x([fx(1000), fx(1395)], 'y7', [1, 4], dtick=0.5, ticks='outside', ticklen=5,
                   tickcolor=GRID, tickfont=tf(16), ticklabelstandoff=12),
    yaxis7=excel_y([fy(1120), fy(830)], 'x7', [0, 0.2], dtick=0.05, showgrid=False, tickfont=tf(16),
                   ticklabelstandoff=6),
)
fig.update_layout(**layout)

ann = []
shapes = []


def text(xp, yp, s, size, color=TXT, family=FONT, angle=0, xanchor='center', **kw):
    a = dict(x=fx(xp), y=fy(yp), xref='paper', yref='paper', text=s, showarrow=False,
             font=dict(family=family, size=size, color=color), textangle=angle,
             xanchor=xanchor, yanchor='middle')
    a.update(kw)
    ann.append(a)


# panel letters
for lbl, xp, yp in [('a', 20, 30), ('b', 517, 30), ('c', 1010, 30), ('d', 20, 340),
                    ('e', 860, 352), ('f', 24, 800), ('g', 872, 826)]:
    text(xp, yp, lbl, 40, color='black', family='Liberation Sans')

# axis titles
text(291, 283, '<b>Difference of allele frequency (Fa-Fb)</b>', 17)
text(42, 133, '<b># SNPs</b>', 15, angle=-90)
text(1271, 305, '<b>Difference of Allele frequency (Fa-Fb)</b>', 17)
text(1027, 152, '<b># SNPs</b>', 15, angle=-90)
text(529, 184, '<b>Log Fluorescence</b>', 10.5, color='#222', family='DejaVu Sans', angle=-90,
     bordercolor='#222', borderwidth=1, borderpad=1)
text(741, 329, '<b>Cycle</b>', 10.5, color='#222', family='DejaVu Sans',
     bordercolor='#222', borderwidth=1, borderpad=1)
text(467, 747, '<b># reads per SNP</b>', 22)
text(108, 521, '<b>Difference of allele frequency</b>', 21, angle=-90)
text(461, 1193, '<b># reads per SNP</b>', 22)
text(96, 997, '<b>Difference of allele frequency</b>', 21, angle=-90)
text(1196, 740, '<b>log (read counts per SNP)</b>', 18.5)
text(922, 529, '<b>Standard deviation</b>', 19, angle=-90)
text(1196, 1188, '<b>log (read counts per SNP)</b>', 18.5)
text(926, 977, '<b>Standard deviation</b>', 19, angle=-90)

# Gen labels
text(616, 408, 'Gen-2', 36, color='black')
text(616, 864, 'Gen-3', 36, color='black')
text(1287, 401, 'Gen-2', 34, color='black')
text(1229, 862, 'Gen-3', 34, color='black')

# panel b legend
for i, (nm, col) in enumerate(zip(b_names, ['#FF2020', '#22CC22', '#3030F0'])):
    text(810, 218 + 18 * i, nm, 13, color=col, family='DejaVu Sans', xanchor='left')

# panel b Ct lines and labels
for ct in b_ct:
    shapes.append(dict(type='line', xref='x2', yref='y2', x0=ct, x1=ct, y0=b_threshold, y1=-0.58,
                       line=dict(color='black', width=1)))
    shapes.append(dict(type='line', xref='x2', yref='paper', x0=ct, x1=ct, y0=fy(72), y1=fy(48),
                       line=dict(color='black', width=1)))
    ann.append(dict(x=ct, y=fy(35), xref='x2', yref='paper', text=f'{ct}', showarrow=False, xshift=5,
                    font=dict(family='DejaVu Sans', size=12.5, color='#222'), yanchor='middle'))
shapes.append(dict(type='line', xref='x2', yref='y2', x0=1, x1=35, y0=b_threshold, y1=b_threshold,
                   line=dict(color='#222', width=1.3, dash='dash')))
for i in range(2):
    lo, hi = b_ct[i], b_ct[i + 1]
    ann.append(dict(x=(lo + hi) / 2, y=fy(60), xref='x2', yref='paper', text=f'<b>{hi - lo:.1f}</b>',
                    showarrow=False, font=dict(family='DejaVu Sans', size=12.5, color='#FF2020'),
                    yanchor='middle', xshift=1))
    for tip, off in [(lo, 13), (hi, -13)]:
        ann.append(dict(x=tip, y=fy(60), xref='x2', yref='paper', ax=off, ay=0, axref='pixel', ayref='pixel',
                        text='', showarrow=True, arrowhead=2, arrowsize=1, arrowwidth=1.6,
                        arrowcolor='black', standoff=1))

# SD panel legends
for cx, cy, dy in [(1253, 451, 27), (1192, 925, 29)]:
    shapes.append(dict(type='circle', xref='paper', yref='paper', x0=fx(cx - 5.5), x1=fx(cx + 5.5),
                       y0=fy(cy + 5.5), y1=fy(cy - 5.5), line=dict(color='#333', width=1.3)))
    lx0 = cx - 20
    shapes.append(dict(type='line', xref='paper', yref='paper', x0=fx(lx0), x1=fx(lx0 + 39),
                       y0=fy(cy + dy), y1=fy(cy + dy), line=dict(color='black', width=3)))
    shapes.append(dict(type='line', xref='paper', yref='paper', x0=fx(lx0), x1=fx(lx0 + 39),
                       y0=fy(cy + 2 * dy), y1=fy(cy + 2 * dy), line=dict(color=GREEN, width=3)))
    text(cx + 22, cy, sd_legend[0], 16.5, xanchor='left')
    text(lx0 + 40, cy + dy, sd_legend[1], 16.5, xanchor='left')
    text(lx0 + 40, cy + 2 * dy, sd_legend[2], 16.5, xanchor='left')

# panel frames
for x0, y0, x1, y1 in [(62, 347, 795, 787), (908, 363, 1417, 770), (58, 797, 800, 1225), (911, 810, 1414, 1218)]:
    shapes.append(dict(type='rect', xref='paper', yref='paper', x0=fx(x0), x1=fx(x1), y0=fy(y1), y1=fy(y0),
                       line=dict(color='#9a9a9a', width=1.3), fillcolor='rgba(0,0,0,0)', layer='below'))

fig.update_layout(annotations=ann, shapes=shapes)
fig.write_html('out.html')
